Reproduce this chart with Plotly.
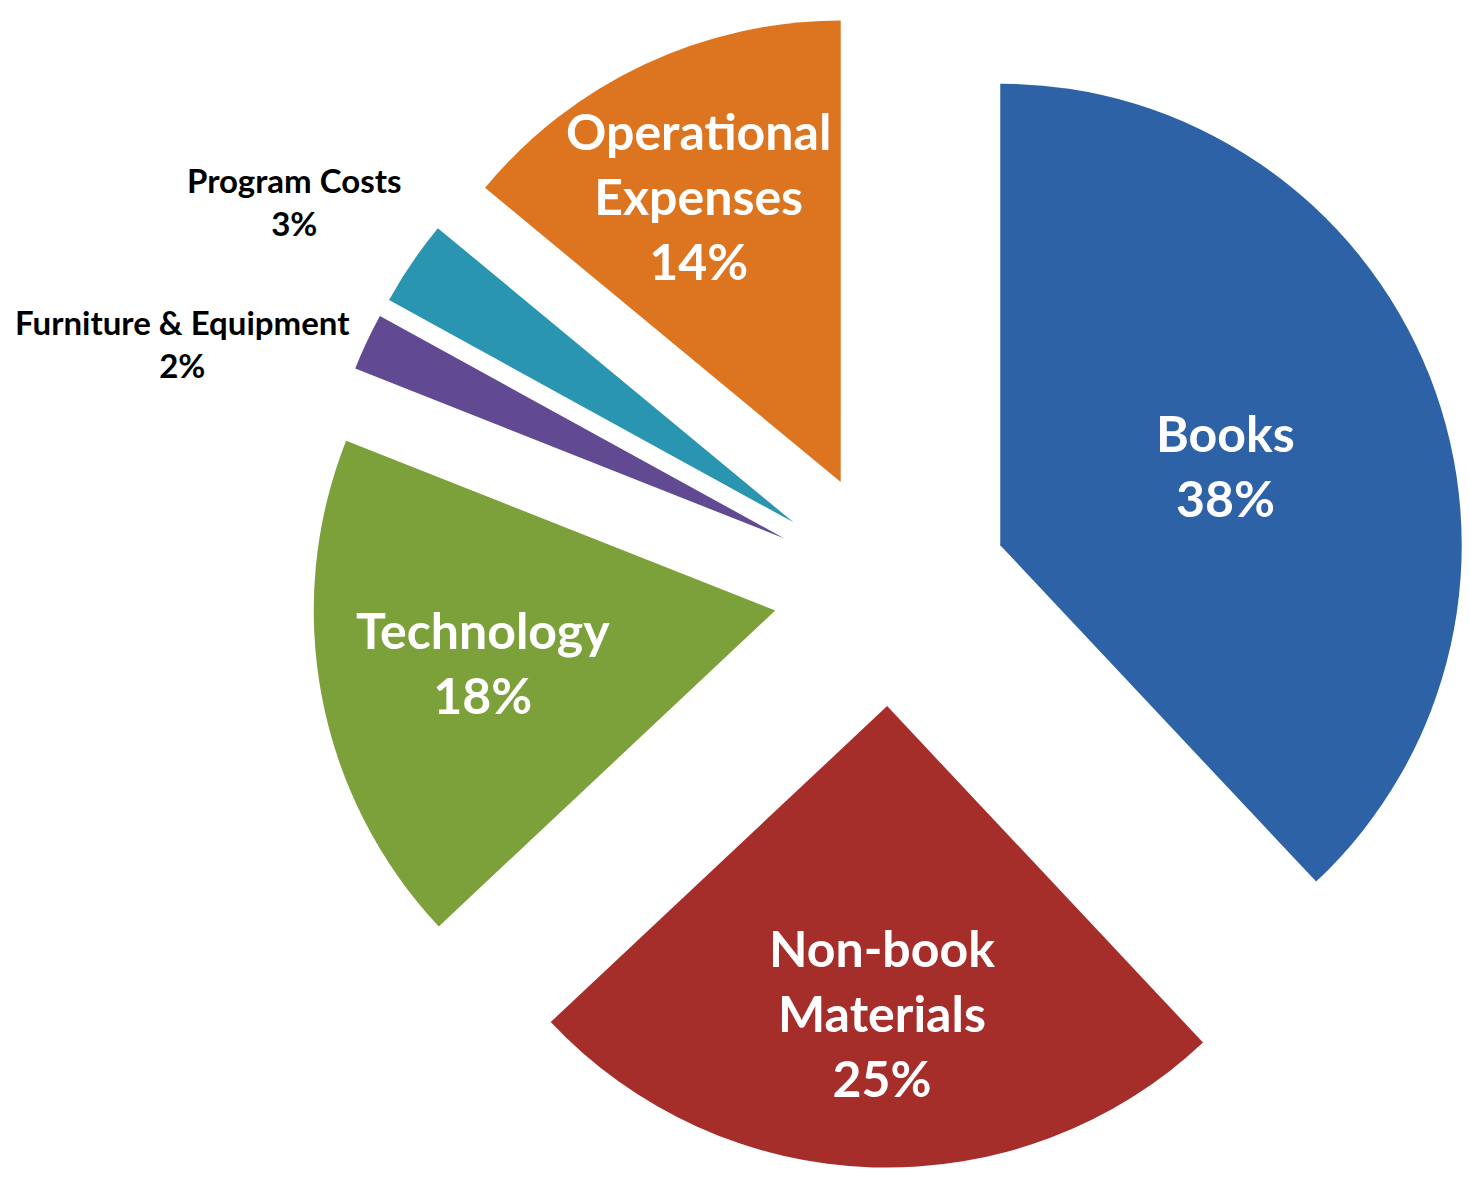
import plotly.graph_objects as go

categories = ["Books", "Non-book<br>Materials", "Technology", "Furniture & Equipment", "Program Costs", "Operational<br>Expenses"]
values = [38, 25, 18, 2, 3, 14]
colors = ["#2E62A6", "#A52E2B", "#7DA13A", "#624A92", "#2A95B1", "#DD7420"]
inside = [True, True, True, False, False, True]

W, H = 1470, 1177

fig = go.Figure(go.Pie(
    values=values,
    labels=categories,
    textinfo="none",
    marker=dict(colors=colors, line=dict(width=0)),
    pull=[0.255] * len(values),
    sort=False,
    direction="clockwise",
    rotation=0,
    hole=0,
    domain=dict(x=[0.212, 1.0], y=[0.0, 1.0]),
    showlegend=False,
))

# label centres (pixels)
label_pos = {
    "Books": (1225, 466),
    "Non-book<br>Materials": (882, 1013),
    "Technology": (483, 662),
    "Furniture & Equipment": (182, 343),
    "Program Costs": (294, 201),
    "Operational<br>Expenses": (698, 196),
}
for c, v, ins in zip(categories, values, inside):
    px, py = label_pos[c]
    fig.add_annotation(
        x=px / W, y=1 - py / H, xref="paper", yref="paper",
        text=f"{c}<br>{v}%", showarrow=False,
        font=dict(family="Lato", size=50 if ins else 33,
                  color="white" if ins else "black", weight="bold"),
        xanchor="center", yanchor="middle", align="center",
    )

fig.update_layout(
    width=W, height=H,
    margin=dict(l=0, r=0, t=0, b=0),
    paper_bgcolor="white",
    plot_bgcolor="white",
)

fig.write_html("out.html")
